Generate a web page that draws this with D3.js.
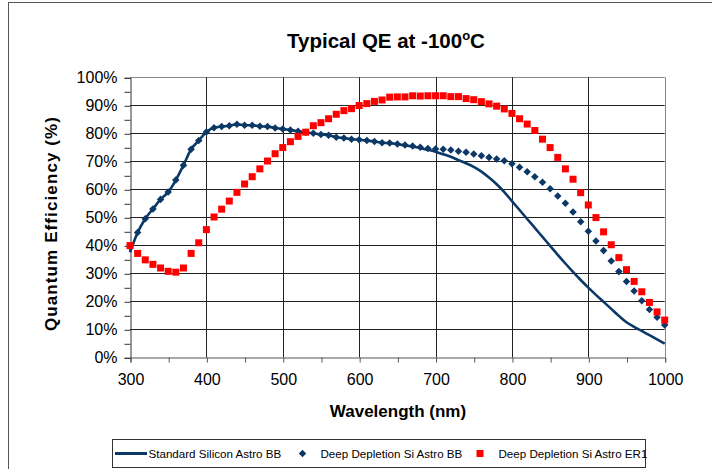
<!DOCTYPE html>
<html><head><meta charset="utf-8">
<script src="https://cdn.jsdelivr.net/npm/d3@7"></script>
<style>body{margin:0;background:#fff} text{font-family:"Liberation Sans",Arial,sans-serif}</style>
</head><body>
<svg id="c" width="712" height="469"></svg>
<script>
const wavelengths = [300,310,320,330,340,350,360,370,380,390,400,410,420,430,440,450,460,470,480,490,500,510,520,530,540,550,560,570,580,590,600,610,620,630,640,650,660,670,680,690,700,710,720,730,740,750,760,770,780,790,800,810,820,830,840,850,860,870,880,890,900,910,920,930,940,950,960,970,980,990,1000];
const standardSiliconBB = [37.5,44.6,49.5,53,56.4,59,63.3,68.6,74.3,77.4,80.5,82,82.4,82.7,83.2,82.9,82.9,82.5,82.4,81.9,81.5,81.2,80.7,80.4,80,79.6,79.3,78.6,78.3,77.9,77.7,77.4,77.1,76.6,76.5,76.1,75.7,75.3,74.7,74.1,73.4,72.5,71.6,70.4,69.3,68,66.3,64.2,61.8,59,55.8,52.6,49.4,46.2,43,39.8,36.6,33.5,30.5,27.6,24.9,22.3,19.8,17.3,14.8,12.5,10.9,9.4,7.9,6.4,4.9];
const deepDepletionBB = [39.5,44.6,49.5,53,56.4,59,63.3,68.6,74.3,77.4,80.5,82,82.4,82.7,83.2,82.9,82.9,82.5,82.4,81.9,81.5,81.2,80.7,80.4,80,79.6,79.3,78.6,78.3,77.9,77.7,77.4,77.1,76.6,76.5,76.2,75.8,75.5,75,74.6,74.4,74.3,74,73.6,73.2,72.6,72,71.4,70.8,70.2,69.1,67.9,66.3,64.5,62.5,60.2,57.6,55,51.9,48.4,45,41.5,38.1,34.4,30.6,27.1,23.7,20.2,17.1,14.3,11.5];
const deepDepletionER1 = [39.9,37.1,34.8,33.2,31.9,30.7,30.4,31.9,37.1,40.9,45.6,50.1,52.9,55.8,58.9,61.9,64.5,67.3,70.1,72.7,74.9,77,78.9,80.4,82.7,83.8,85.2,86.8,88.1,88.8,89.9,90.6,91.4,91.9,92.9,93,93,93.4,93.3,93.4,93.4,93.4,93.1,93.1,92.4,92,91.3,90.5,89.7,88.7,87.1,85.2,83.3,81,77.9,74.9,71.4,67.3,63.6,58.8,54.4,49.9,44.8,40.2,35.6,31.3,27.1,23.4,19.6,16.2,13.3];
const xTickLabels = [300,400,500,600,700,800,900,1000];
const yTickLabels = [0,10,20,30,40,50,60,70,80,90,100];
const seriesNames = ["Standard Silicon Astro BB","Deep Depletion Si Astro BB","Deep Depletion Si Astro ER1"];

const NAVY = "#0b3866", RED = "#ff0000";
const svg = d3.select("#c");
const L = 130, R = 664.7, T = 77.3, B = 357.3;
const x = d3.scaleLinear().domain([300,1000]).range([L,R]);
const y = d3.scaleLinear().domain([0,100]).range([B,T]);

// outer frame
svg.append("rect").attr("x",8.5).attr("y",2.5).attr("width",760).attr("height",520)
  .attr("fill","none").attr("stroke","#555").attr("stroke-width",1);

// title
const title = svg.append("text").attr("x",386).attr("y",48).attr("text-anchor","middle")
  .attr("font-size",20.5).attr("font-weight","bold").attr("fill","#000");
title.append("tspan").text("Typical QE at -100");
title.append("tspan").attr("font-size",13).attr("dy",-8).text("o");
title.append("tspan").attr("dy",8).text("C");

// gridlines
const g = svg.append("g");
g.selectAll("line.h").data(yTickLabels.slice(1)).join("line")
  .attr("x1",L).attr("x2",R).attr("y1",d=>Math.round(y(d))+0.5).attr("y2",d=>Math.round(y(d))+0.5)
  .attr("stroke",d=>d===100?"#888":"#222").attr("stroke-width",1);
g.selectAll("line.v").data(xTickLabels.slice(1)).join("line")
  .attr("y1",T).attr("y2",B).attr("x1",d=>Math.round(x(d))+0.5).attr("x2",d=>Math.round(x(d))+0.5)
  .attr("stroke",d=>d===1000?"#888":"#222").attr("stroke-width",1);

// axes
const yTicks = d3.range(0,101,5);
const yAxis = d3.axisLeft(y).tickValues(yTicks).tickSize(6).tickPadding(7)
  .tickFormat(d => d%10===0 ? d+"%" : "");
const ya = svg.append("g").attr("transform",`translate(${Math.round(L)+0.5},0.5)`).call(yAxis);
ya.selectAll("text").attr("font-size",16).attr("fill","#000").attr("font-family","Liberation Sans, Arial, sans-serif");
ya.selectAll("line,path").attr("stroke","#333");

const xTicks = d3.range(300,1001,50);
const xAxis = d3.axisBottom(x).tickValues(xTicks).tickSize(5).tickPadding(11)
  .tickFormat(d => d%100===0 ? d : "");
const xa = svg.append("g").attr("transform",`translate(0.5,${Math.round(B)+0.5})`).call(xAxis);
xa.selectAll("text").attr("font-size",16).attr("fill","#000").attr("font-family","Liberation Sans, Arial, sans-serif");
xa.selectAll("line,path").attr("stroke","#555");

// axis titles
svg.append("text").attr("x",398).attr("y",417).attr("text-anchor","middle")
  .attr("font-size",17).attr("font-weight","bold").text("Wavelength (nm)");
svg.append("text").attr("transform","translate(57,224) rotate(-90)").attr("text-anchor","middle")
  .attr("font-size",17).attr("font-weight","bold").attr("textLength",214).attr("lengthAdjust","spacing")
  .text("Quantum Efficiency (%)");

// series
const lineData = wavelengths.map((w,i)=>[w,standardSiliconBB[i]]);
svg.append("path").datum(lineData)
  .attr("d", d3.line().x(d=>x(d[0])).y(d=>y(d[1])).curve(d3.curveMonotoneX))
  .attr("fill","none").attr("stroke",NAVY).attr("stroke-width",2.6);

const diamond = d3.symbol().type(d3.symbolDiamond2).size(36);
svg.append("g").selectAll("path").data(wavelengths.map((w,i)=>[w,deepDepletionBB[i]])).join("path")
  .attr("d", diamond).attr("transform",d=>`translate(${x(d[0])},${y(d[1])})`).attr("fill",NAVY);

svg.append("g").selectAll("rect").data(wavelengths.map((w,i)=>[w,deepDepletionER1[i]])).join("rect")
  .attr("x",d=>x(d[0])-3.5).attr("y",d=>y(d[1])-3.5).attr("width",7).attr("height",7).attr("fill",RED);

// legend
const lg = svg.append("g");
lg.append("rect").attr("x",112.5).attr("y",439.5).attr("width",533).attr("height",28)
  .attr("fill","#fff").attr("stroke","#333");
const ly = 453.5;
lg.append("line").attr("x1",115).attr("x2",147).attr("y1",ly).attr("y2",ly).attr("stroke",NAVY).attr("stroke-width",3);
lg.append("path").attr("d",diamond).attr("transform",`translate(302.5,${ly})`).attr("fill",NAVY);
lg.append("rect").attr("x",476.5).attr("y",ly-3.5).attr("width",7).attr("height",7).attr("fill",RED);
const lx = [148.5,320.5,498.5];
seriesNames.forEach((n,i)=>{
  lg.append("text").attr("x",lx[i]).attr("y",ly+4).attr("font-size",11.6).attr("fill","#000").text(n);
});
</script>
</body></html>
